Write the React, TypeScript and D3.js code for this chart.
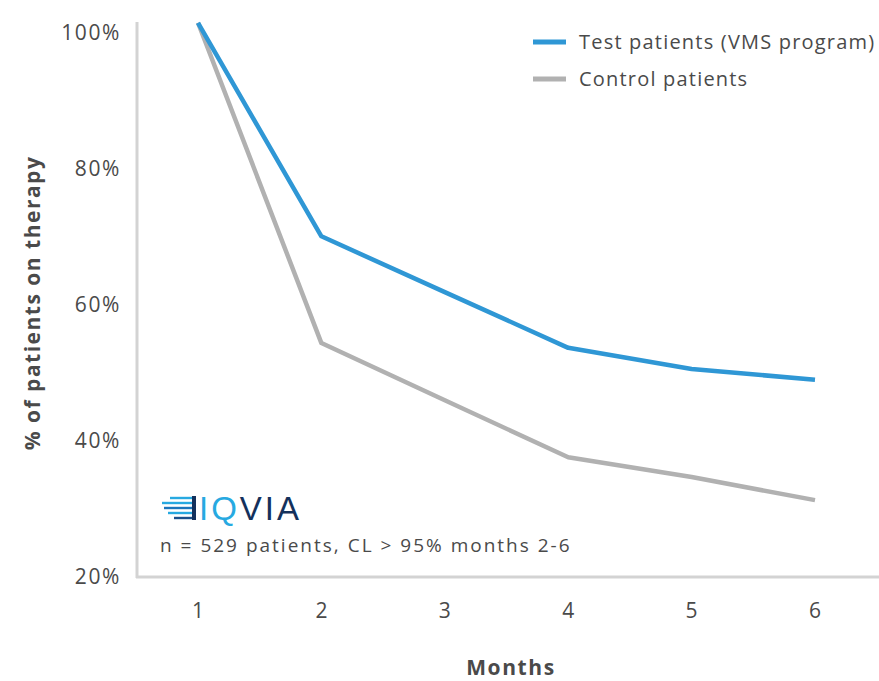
import React, { useEffect, useRef } from 'react';
import * as d3 from 'd3';

const months = [1, 2, 3, 4, 5, 6];
const testPatients = [101.5, 70.1, 61.9, 53.7, 50.6, 49.0];
const controlPatients = [101.5, 54.4, 46.0, 37.6, 34.7, 31.3];
const yTicks = [20, 40, 60, 80, 100];
const seriesNames = ['Test patients (VMS program)', 'Control patients'];
const seriesColors = ['#2f97d5', '#b1b1b1'];

const App: React.FC = () => {
  const svgRef = useRef<SVGSVGElement>(null);

  useEffect(() => {
    if (!svgRef.current) return;
    const svg = d3.select(svgRef.current);
    svg.selectAll('*').remove();

    const width = 879;
    const height = 681;
    const font = "'Open Sans', sans-serif";
    const textColor = '#4a4a4a';

    svg.attr('width', width).attr('height', height);

    const x = d3.scaleLinear().domain([1, 6]).range([198, 815]);
    const y = d3.scaleLinear().domain([20, 100]).range([577, 33]);

    // axis lines
    svg.append('line')
      .attr('x1', 137).attr('x2', 137)
      .attr('y1', 22).attr('y2', 578)
      .attr('stroke', '#d3d3d3').attr('stroke-width', 3);
    svg.append('line')
      .attr('x1', 136).attr('x2', width)
      .attr('y1', y(20)).attr('y2', y(20))
      .attr('stroke', '#d3d3d3').attr('stroke-width', 3);

    // y tick labels
    svg.append('g')
      .selectAll('text')
      .data(yTicks)
      .enter()
      .append('text')
      .attr('x', 121)
      .attr('y', d => y(d))
      .attr('dy', '0.35em')
      .attr('text-anchor', 'end')
      .attr('font-family', font)
      .attr('font-size', 21)
      .attr('letter-spacing', 1.6)
      .attr('fill', textColor)
      .text(d => `${d}%`);

    // x tick labels
    svg.append('g')
      .selectAll('text')
      .data(months)
      .enter()
      .append('text')
      .attr('x', d => x(d))
      .attr('y', 611)
      .attr('dy', '0.35em')
      .attr('text-anchor', 'middle')
      .attr('font-family', font)
      .attr('font-size', 21)
      .attr('fill', textColor)
      .text(d => String(d));

    // axis titles
    svg.append('text')
      .attr('transform', 'translate(33, 303) rotate(-90)')
      .attr('dy', '0.35em')
      .attr('text-anchor', 'middle')
      .attr('font-family', font)
      .attr('font-size', 21)
      .attr('letter-spacing', 1.5)
      .attr('font-weight', 'bold')
      .attr('fill', textColor)
      .text('% of patients on therapy');
    svg.append('text')
      .attr('x', 511)
      .attr('y', 668)
      .attr('dy', '0.35em')
      .attr('text-anchor', 'middle')
      .attr('font-family', font)
      .attr('font-size', 21)
      .attr('letter-spacing', 1.6)
      .attr('font-weight', 'bold')
      .attr('fill', textColor)
      .text('Months');

    // lines
    const line = d3.line<number>()
      .x((_, i) => x(months[i]))
      .y(d => y(d));

    [controlPatients, testPatients].forEach((series, k) => {
      svg.append('path')
        .datum(series)
        .attr('d', line)
        .attr('fill', 'none')
        .attr('stroke', seriesColors[1 - k])
        .attr('stroke-width', 4.5)
        .attr('stroke-linejoin', 'round');
    });

    // legend
    const legend = svg.append('g');
    seriesNames.forEach((name, i) => {
      const ly = 42 + i * 37;
      legend.append('line')
        .attr('x1', 533).attr('x2', 566)
        .attr('y1', ly).attr('y2', ly)
        .attr('stroke', seriesColors[i])
        .attr('stroke-width', 5);
      legend.append('text')
        .attr('x', 579)
        .attr('y', ly)
        .attr('dy', '0.35em')
        .attr('font-family', font)
        .attr('font-size', 20)
        .attr('letter-spacing', 1.2)
        .attr('fill', textColor)
        .text(name);
    });

    // IQVIA logo
    const logo = svg.append('g');
    const stripes = [
      { y: 498, x0: 170, c: '#27a9e1' },
      { y: 503, x0: 162, c: '#27a9e1' },
      { y: 508, x0: 164, c: '#1b75bb' },
      { y: 513, x0: 168, c: '#27a9e1' },
      { y: 518, x0: 174, c: '#1b4f8a' },
    ];
    stripes.forEach(s => {
      logo.append('rect')
        .attr('x', s.x0).attr('y', s.y - 1.2)
        .attr('width', 196 - s.x0).attr('height', 2.4)
        .attr('fill', s.c);
    });
    logo.append('rect')
      .attr('x', 192).attr('y', 496).attr('width', 4).attr('height', 24)
      .attr('fill', '#14315c');
    const logoText = logo.append('text')
      .attr('x', 199)
      .attr('y', 520)
      .attr('font-family', "'Liberation Sans', sans-serif")
      .attr('font-size', 33)
      .attr('letter-spacing', 3)
      .attr('font-weight', 300);
    logoText.append('tspan').attr('fill', '#27a9e1').text('IQ');
    logoText.append('tspan').attr('fill', '#14315c').text('VIA');

    svg.append('text')
      .attr('x', 160)
      .attr('y', 545)
      .attr('dy', '0.35em')
      .attr('font-family', font)
      .attr('font-size', 19)
      .attr('letter-spacing', 2)
      .attr('fill', textColor)
      .text('n = 529 patients, CL > 95% months 2-6');
  }, []);

  return <svg ref={svgRef} style={{ position: 'absolute', left: 0, top: 0 }}></svg>;
};

export default App;
